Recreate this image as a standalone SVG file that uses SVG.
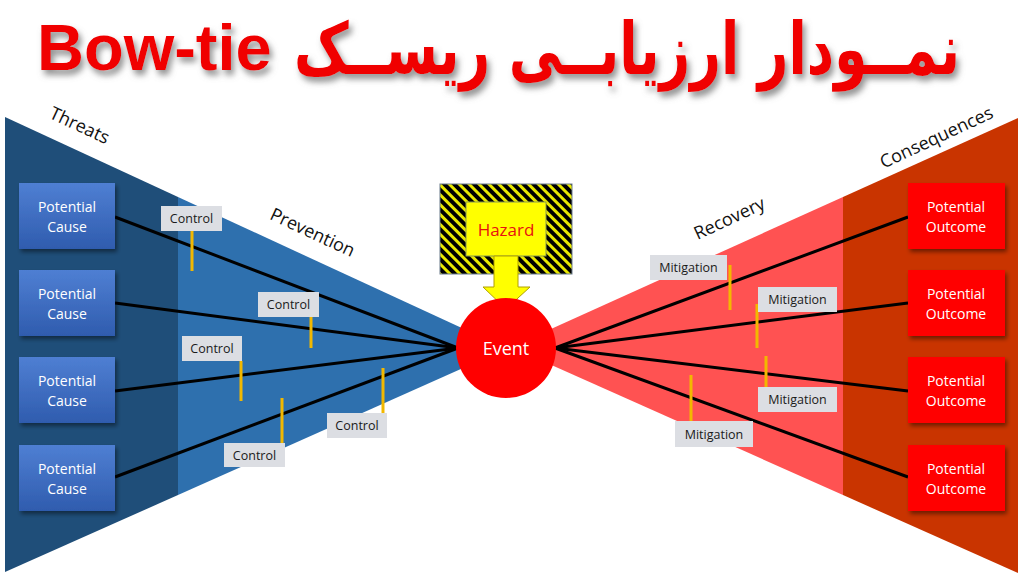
<svg xmlns="http://www.w3.org/2000/svg" width="1024" height="577" viewBox="0 0 1024 577">
  <defs>
    <filter id="tshadow" x="-10%" y="-20%" width="120%" height="150%">
      <feDropShadow dx="3" dy="5" stdDeviation="3" flood-color="#777" flood-opacity="0.8"/>
    </filter>
    <filter id="bshadow" x="-10%" y="-10%" width="125%" height="130%">
      <feDropShadow dx="2" dy="3" stdDeviation="2" flood-color="#000" flood-opacity="0.45"/>
    </filter>
    <linearGradient id="causeGrad" x1="0" y1="0" x2="0" y2="1">
      <stop offset="0" stop-color="#4f7fd3"/>
      <stop offset="1" stop-color="#2f5cae"/>
    </linearGradient>
    <pattern id="hatch" width="7" height="7" patternUnits="userSpaceOnUse" patternTransform="rotate(-45)">
      <rect x="0" y="0" width="7" height="7" fill="#e8e800"/>
      <rect x="0" y="0" width="4" height="7" fill="#000"/>
    </pattern>
  </defs>
  <style>
    .sec { font-family: "Open Sans", "Liberation Sans", sans-serif; font-size: 18px; fill: #111; }
    .box { font-family: "Open Sans", "Liberation Sans", sans-serif; font-size: 14px; fill: #fff; text-anchor: middle; }
    .lbl { fill: #dcdee3; }
    .lt { font-family: "Open Sans", "Liberation Sans", sans-serif; font-size: 12.5px; fill: #1a1a1a; text-anchor: middle; }
    .bar { stroke: #f2b800; stroke-width: 3; }
    .conn { stroke: #000; stroke-width: 3; fill: none; }
  </style>
  <rect width="1024" height="577" fill="#ffffff"/>

  <!-- Title -->
  <g id="title" filter="url(#tshadow)">
    <text x="37" y="70" font-family="Liberation Sans, Arial, sans-serif" font-weight="bold" font-size="65" fill="#f00000">Bow-tie</text>
    <text x="960" y="74" text-anchor="end" textLength="666" lengthAdjust="spacingAndGlyphs" font-family="DejaVu Sans, Noto Sans, sans-serif" font-weight="bold" font-size="72" fill="#f00000">نمــودار ارزیابــی ریســک</text>
  </g>

  <!-- Bow tie shapes -->
  <g id="left-wing">
    <polygon points="5,117 178,197 178,495 5,572" fill="#1f4e79"/>
    <polygon points="178,197 490,341 490,356 178,495" fill="#2e70ae"/>
  </g>
  <g id="right-wing">
    <polygon points="520,343 843,197 843,495 520,351" fill="#ff5252"/>
    <polygon points="843,197 1018,118 1018,573 843,495" fill="#c93400"/>
  </g>

  <!-- Section labels -->
  <text class="sec" text-anchor="middle" transform="translate(77,131) rotate(25)">Threats</text>
  <text class="sec" text-anchor="middle" transform="translate(310,238) rotate(25)">Prevention</text>
  <text class="sec" text-anchor="middle" transform="translate(732,224) rotate(-25)">Recovery</text>
  <text class="sec" text-anchor="middle" transform="translate(939,143) rotate(-25)">Consequences</text>

  <!-- Connectors -->
  <g id="connectors">
    <line class="conn" x1="115" y1="217" x2="458" y2="348"/>
    <line class="conn" x1="115" y1="303" x2="458" y2="348"/>
    <line class="conn" x1="115" y1="391" x2="458" y2="348"/>
    <line class="conn" x1="115" y1="477" x2="458" y2="348"/>
    <line class="conn" x1="555" y1="348" x2="908" y2="217"/>
    <line class="conn" x1="555" y1="348" x2="908" y2="303"/>
    <line class="conn" x1="555" y1="348" x2="908" y2="391"/>
    <line class="conn" x1="555" y1="348" x2="908" y2="477"/>
  </g>

  <!-- Causes -->
  <g id="cause1"><rect x="19" y="183" width="96" height="66" fill="url(#causeGrad)" filter="url(#bshadow)"/><text class="box" x="67" y="212">Potential</text><text class="box" x="67" y="232">Cause</text></g>
  <g id="cause2"><rect x="19" y="270" width="96" height="66" fill="url(#causeGrad)" filter="url(#bshadow)"/><text class="box" x="67" y="299">Potential</text><text class="box" x="67" y="319">Cause</text></g>
  <g id="cause3"><rect x="19" y="357" width="96" height="66" fill="url(#causeGrad)" filter="url(#bshadow)"/><text class="box" x="67" y="386">Potential</text><text class="box" x="67" y="406">Cause</text></g>
  <g id="cause4"><rect x="19" y="445" width="96" height="66" fill="url(#causeGrad)" filter="url(#bshadow)"/><text class="box" x="67" y="474">Potential</text><text class="box" x="67" y="494">Cause</text></g>

  <!-- Outcomes -->
  <g id="outcome1"><rect x="908" y="183" width="97" height="66" fill="#ff0000" filter="url(#bshadow)"/><text class="box" x="956" y="212">Potential</text><text class="box" x="956" y="232">Outcome</text></g>
  <g id="outcome2"><rect x="908" y="270" width="97" height="66" fill="#ff0000" filter="url(#bshadow)"/><text class="box" x="956" y="299">Potential</text><text class="box" x="956" y="319">Outcome</text></g>
  <g id="outcome3"><rect x="908" y="357" width="97" height="66" fill="#ff0000" filter="url(#bshadow)"/><text class="box" x="956" y="386">Potential</text><text class="box" x="956" y="406">Outcome</text></g>
  <g id="outcome4"><rect x="908" y="445" width="97" height="66" fill="#ff0000" filter="url(#bshadow)"/><text class="box" x="956" y="474">Potential</text><text class="box" x="956" y="494">Outcome</text></g>

  <!-- Controls -->
  <g id="control1"><line class="bar" x1="192" y1="231" x2="192" y2="271"/><rect class="lbl" x="161" y="206" width="61" height="25"/><text class="lt" x="191.5" y="223">Control</text></g>
  <g id="control2"><line class="bar" x1="311" y1="317" x2="311" y2="348"/><rect class="lbl" x="258" y="292" width="61" height="25"/><text class="lt" x="288.5" y="309">Control</text></g>
  <g id="control3"><line class="bar" x1="241" y1="361" x2="241" y2="401"/><rect class="lbl" x="182" y="336" width="60" height="25"/><text class="lt" x="212" y="353">Control</text></g>
  <g id="control4"><line class="bar" x1="282" y1="398" x2="282" y2="443"/><rect class="lbl" x="224" y="443" width="61" height="24"/><text class="lt" x="254.5" y="460">Control</text></g>
  <g id="control5"><line class="bar" x1="383" y1="368" x2="383" y2="413"/><rect class="lbl" x="327" y="413" width="60" height="25"/><text class="lt" x="357" y="430">Control</text></g>

  <!-- Mitigations -->
  <g id="mitigation1"><line class="bar" x1="730" y1="265" x2="730" y2="310"/><rect class="lbl" x="650" y="255" width="77" height="25"/><text class="lt" x="688.5" y="272">Mitigation</text></g>
  <g id="mitigation2"><line class="bar" x1="757" y1="304" x2="757" y2="348"/><rect class="lbl" x="758" y="287" width="79" height="25"/><text class="lt" x="797.5" y="304">Mitigation</text></g>
  <g id="mitigation3"><line class="bar" x1="766" y1="356" x2="766" y2="387"/><rect class="lbl" x="758" y="387" width="79" height="25"/><text class="lt" x="797.5" y="404">Mitigation</text></g>
  <g id="mitigation4"><line class="bar" x1="691" y1="375" x2="691" y2="421"/><rect class="lbl" x="675" y="421" width="78" height="26"/><text class="lt" x="714" y="439">Mitigation</text></g>

  <!-- Hazard -->
  <g id="hazard">
    <rect x="440" y="184" width="132" height="90" fill="url(#hatch)" stroke="#6a7a8a" stroke-width="1"/>
    <rect x="466" y="202" width="80" height="54" fill="#ffff00" stroke="#8a9a50" stroke-width="1"/>
    <text x="506" y="236" text-anchor="middle" font-family="Open Sans, Liberation Sans, sans-serif" font-size="17" fill="#e81010">Hazard</text>
    <polygon points="494,256 518,256 518,287 530,287 506,309 483,287 494,287" fill="#ffff00" stroke="#b0a000" stroke-width="1"/>
  </g>

  <!-- Event -->
  <g id="event">
    <circle cx="506" cy="348" r="50" fill="#ff0000"/>
    <text x="506" y="355" text-anchor="middle" font-family="Open Sans, Liberation Sans, sans-serif" font-size="18" fill="#fff">Event</text>
  </g>
</svg>
